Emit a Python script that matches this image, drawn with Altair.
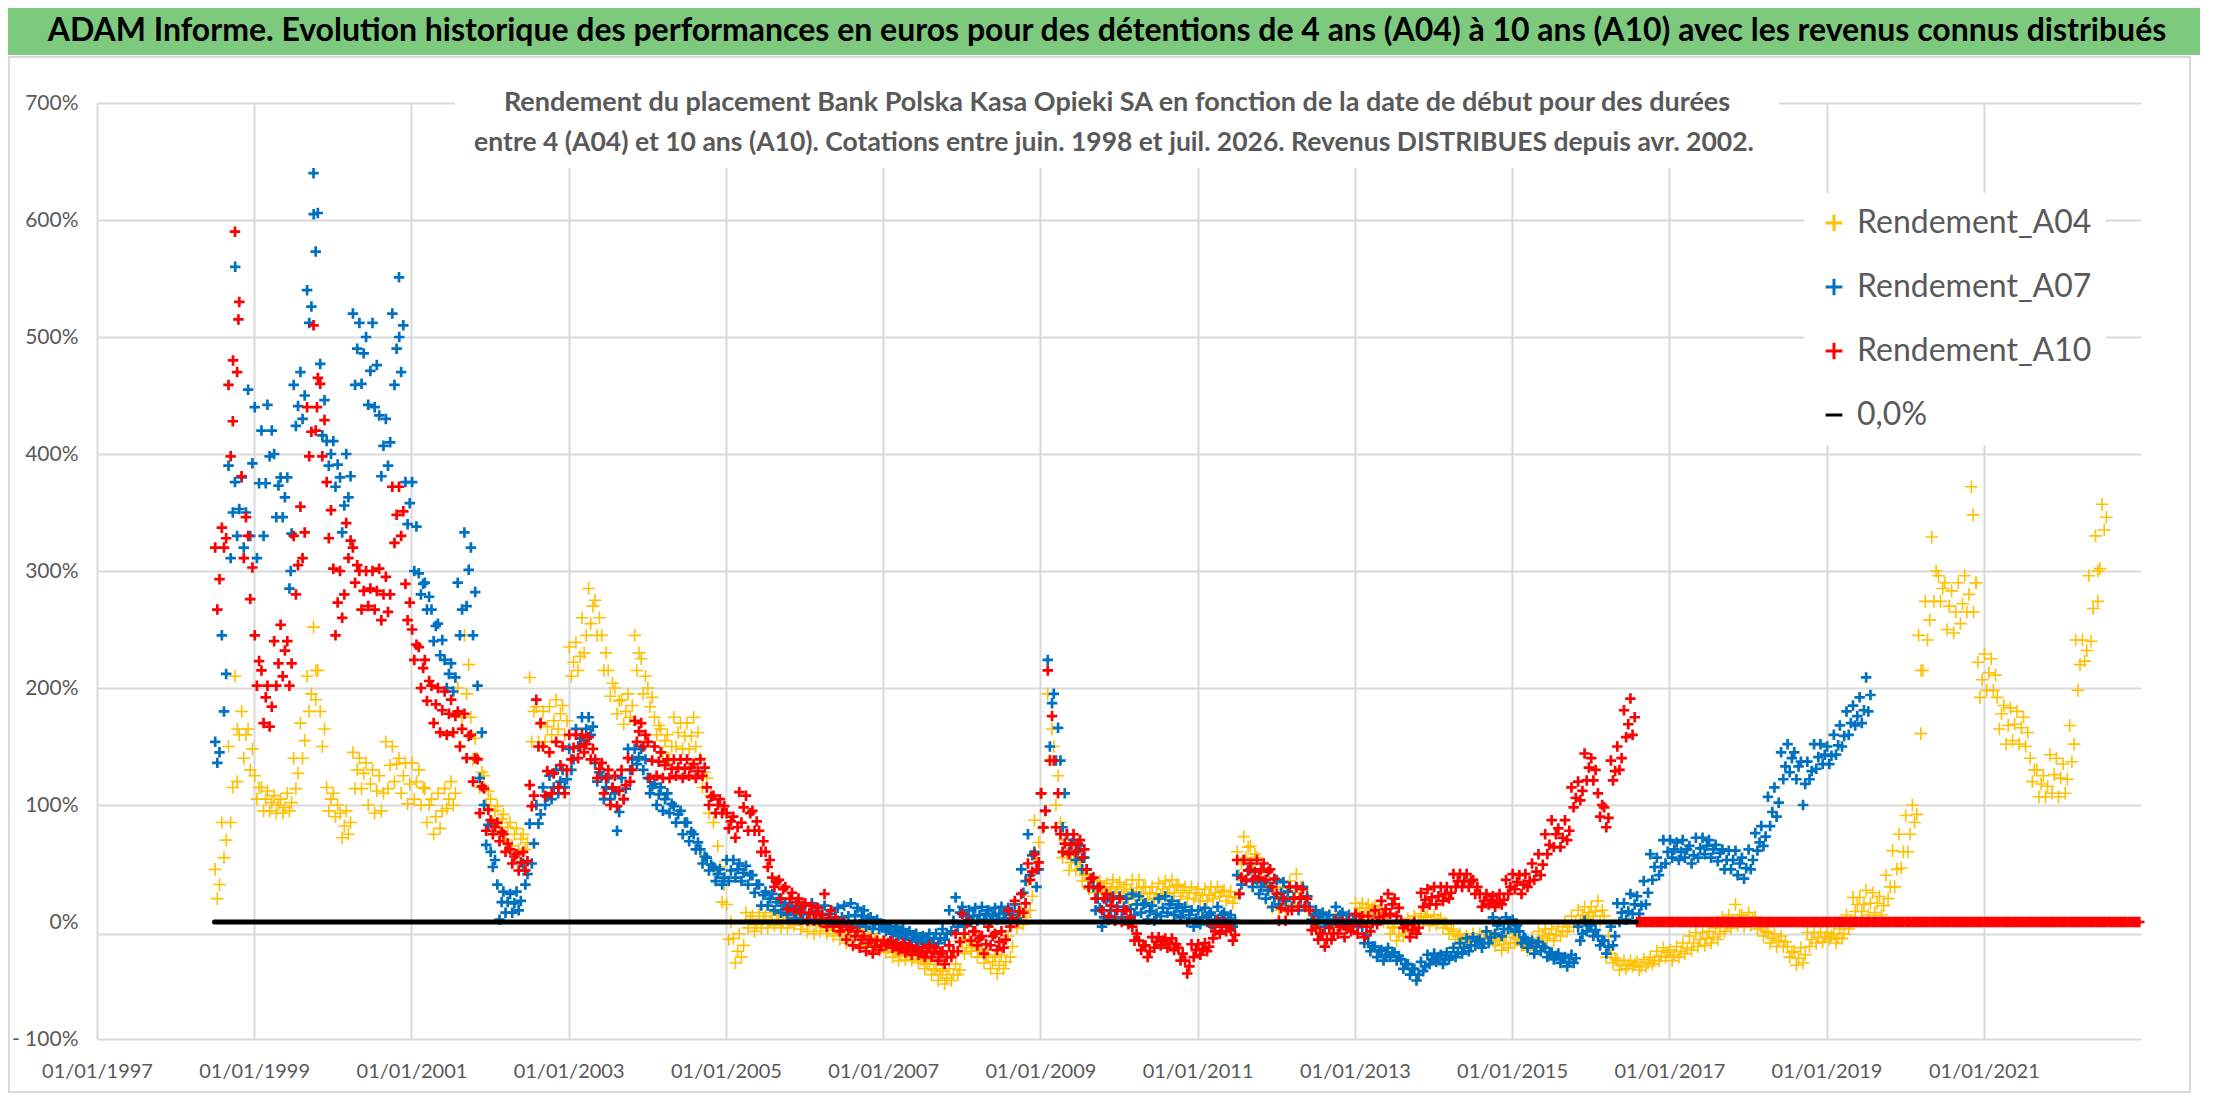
import altair as alt
import pandas as pd

# ---------------------------------------------------------------- textes
TITRE = ("ADAM Informe. Evolution historique des performances en euros pour des détentions "
         "de 4 ans (A04) à 10 ans (A10) avec les revenus connus distribués")
SOUS_TITRE_1 = ("Rendement du placement Bank Polska Kasa Opieki SA en fonction de la date de début "
                "pour des durées")
SOUS_TITRE_2 = ("entre 4 (A04) et 10 ans (A10). Cotations entre juin. 1998 et juil. 2026. "
                "Revenus DISTRIBUES depuis avr. 2002.")

SERIES = ["Rendement_A04", "Rendement_A07", "Rendement_A10", "0,0%"]
COULEURS = ["#FFC000", "#0070C0", "#FF0000", "#000000"]
PLUS = "M-1,0L1,0M0,-1L0,1"
FORMES = [PLUS, PLUS, PLUS, "stroke"]

ANNEES_AXE = [1997, 1999, 2001, 2003, 2005, 2007, 2009, 2011, 2013, 2015, 2017, 2019, 2021]
Y_TICKS = [-1, -0.105, 0, 1, 2, 3, 4, 5, 6, 7]

# ---------------------------------------------------------------- données (en %)
# trois lectures par mois (bas, milieu, haut du nuage), à partir de juillet 1998
DEBUT = "1998-07-01"

A04_BAS = [
    20, 55, 85, 120, 140, 130,
    105, 95, 95, 93, 93, 95, 114, 140, 180, 190, 150, 95,
    90, 72, 75, 114, 114, 100, 93, 95, 114, 120, 110, 101,
    105, 100, 85, 75, 80, 97, 100, 150, 195, 139, 115, 100,
    85, 78, 70, 65, 62, 62, 154, 154, 154, 160, 165, 160,
    210, 215, 230, 255, 245, 215, 193, 178, 169, 175, 215, 195,
    184, 160, 145, 139, 150, 148, 148, 150, 115, 93, 45, 17,
    -15, -35, -30, -5, -8, -5, -5, -3, -5, -5, -3, -6,
    -8, -10, -8, -10, -12, -15, -18, -20, -21, -20, -22, -24,
    -26, -30, -33, -32, -33, -35, -40, -45, -50, -53, -50, -45,
    -27, -25, -30, -35, -40, -44, -40, -30, -5, -2, 10, 50,
    80, 138, 100, 55, 44, 44, 35, 28, 25, 24, 22, 25,
    22, 20, 22, 24, 20, 19, 22, 24, 25, 22, 20, 20,
    18, 18, 20, 22, 18, 16, 40, 55, 50, 35, 20, 12,
    10, 12, 15, 20, 13, 0, -4, -4, -3, -4, -3, -2,
    7, 7, 8, 5, 0, -10, -16, -12, -8, -5, 0, -3,
    -2, -5, -10, -15, -18, -21, -20, -18, -15, -20, -24, -22,
    -18, -20, -24, -22, -16, -14, -16, -12, -8, -4, 1, 3,
    5, 1, -30, -35, -41, -40, -38, -41, -38, -36, -33, -30,
    -33, -30, -27, -24, -21, -20, -18, -15, -8, -5, -3, -4,
    -3, -6, -12, -18, -21, -21, -30, -37, -35, -21, -18, -17,
    -15, -18, -14, -6, 9, 9, 6, 8, 6, 20, 30, 46,
    60, 85, 161, 241, 274, 274, 250, 247, 255, 265, 265, 192,
    198, 198, 165, 152, 155, 152, 150, 120, 107, 107, 110, 107,
    110, 137, 198, 223, 240, 274, 335,
]
A04_MILIEU = [
    32, 70, 115, 160, 160, 148,
    115, 105, 102, 100, 98, 102, 127, 155, 195, 215, 165, 105,
    100, 82, 85, 130, 127, 118, 112, 110, 134, 135, 125, 118,
    120, 115, 100, 90, 95, 105, 110, 175, 220, 157, 128, 112,
    95, 88, 81, 75, 71, 68, 180, 169, 167, 172, 178, 172,
    222, 227, 245, 270, 260, 230, 204, 189, 180, 185, 230, 210,
    192, 168, 155, 150, 162, 159, 159, 162, 128, 108, 65, 32,
    0, -25, -20, 2, -2, 2, 0, 2, 0, 1, 2, 0,
    -1, -3, -2, -5, -7, -10, -12, -13, -15, -13, -16, -19,
    -22, -26, -29, -28, -29, -32, -36, -41, -45, -48, -45, -41,
    -22, -20, -25, -30, -34, -37, -34, -21, 0, 4, 22, 68,
    95, 165, 125, 70, 51, 51, 40, 35, 31, 30, 28, 30,
    28, 26, 29, 30, 25, 24, 28, 30, 31, 27, 25, 25,
    23, 23, 25, 26, 22, 21, 50, 64, 58, 45, 28, 21,
    19, 21, 25, 30, 22, 5, 2, 2, 2, 0, 2, 2,
    12, 12, 12, 10, 5, -5, -10, -6, -2, 0, 4, 1,
    2, -1, -6, -12, -14, -16, -15, -14, -12, -16, -19, -18,
    -14, -17, -20, -18, -12, -10, -11, -8, -4, 0, 6, 8,
    9, 10, -12, -31, -37, -37, -36, -38, -35, -33, -29, -26,
    -28, -25, -22, -18, -15, -14, -13, -10, -2, 0, 6, 1,
    2, -1, -8, -14, -16, -17, -26, -31, -28, -15, -13, -13,
    -12, -14, -10, 0, 15, 15, 16, 16, 14, 30, 45, 60,
    75, 92, 215, 258, 300, 285, 270, 265, 272, 280, 290, 207,
    213, 211, 178, 168, 169, 166, 162, 130, 118, 116, 126, 123,
    122, 152, 220, 232, 268, 302, 346,
]
A04_HAUT = [
    45, 85, 150, 210, 180, 165,
    125, 115, 112, 108, 105, 110, 140, 170, 210, 252, 180, 115,
    110, 93, 95, 145, 140, 136, 130, 125, 154, 150, 140, 136,
    136, 130, 114, 105, 110, 114, 120, 200, 245, 175, 140, 125,
    105, 99, 92, 85, 80, 75, 209, 184, 180, 184, 190, 185,
    235, 239, 260, 285, 275, 245, 215, 200, 190, 195, 245, 225,
    200, 175, 165, 160, 175, 170, 170, 175, 140, 123, 85, 47,
    15, -14, -10, 8, 5, 8, 5, 8, 6, 7, 8, 7,
    6, 5, 5, 0, -2, -4, -5, -6, -8, -6, -10, -14,
    -18, -22, -24, -24, -25, -28, -32, -36, -40, -42, -40, -36,
    -16, -15, -20, -25, -28, -30, -28, -12, 5, 10, 35, 87,
    110, 195, 150, 85, 58, 58, 45, 41, 38, 35, 33, 36,
    34, 32, 36, 36, 30, 30, 33, 35, 36, 32, 30, 30,
    28, 28, 30, 30, 27, 26, 60, 73, 65, 55, 35, 30,
    28, 30, 35, 41, 30, 10, 7, 7, 6, 5, 7, 6,
    16, 16, 15, 14, 10, 0, -4, 0, 3, 5, 7, 5,
    6, 3, -2, -8, -10, -12, -10, -10, -8, -12, -14, -13,
    -10, -14, -16, -14, -8, -6, -6, -4, 0, 5, 10, 13,
    13, 18, 5, -27, -33, -33, -33, -34, -32, -30, -25, -22,
    -24, -21, -18, -12, -9, -9, -8, -5, 4, 6, 15, 6,
    8, 4, -4, -9, -10, -12, -21, -25, -22, -9, -9, -9,
    -9, -10, -6, 6, 21, 21, 27, 25, 22, 40, 61, 75,
    91, 100, 245, 274, 329, 296, 290, 283, 290, 296, 372, 222,
    229, 225, 192, 185, 183, 180, 175, 140, 130, 125, 143, 140,
    135, 168, 241, 241, 296, 330, 357,
]
A04_EXTRA_DATES = ["1998-10-15", "1999-10-15", "2020-03-15", "2020-11-12", "2020-11-27", "2022-06-15"]
A04_EXTRA_VALS = [165, 215, 215, 348, 290, 300]

A07_BAS = [
    136, 180, 311, 330, 320, 330,
    311, 330, 398, 346, 346, 285, 424, 430, 512, 573, 416, 390,
    372, 333, 363, 459, 460, 442, 440, 381, 390, 459, 470, 340,
    300, 280, 267, 240, 228, 200, 197, 245, 270, 245, 123, 66,
    47, 2, 8, 8, 10, 32, 50, 84, 100, 105, 110, 115,
    130, 150, 155, 160, 120, 105, 105, 78, 105, 130, 135, 130,
    110, 100, 95, 93, 85, 75, 69, 62, 50, 44, 35, 32,
    35, 38, 35, 32, 25, 14, 14, 10, 8, 6, 3, 2,
    1, 2, 1, 0, -2, -4, -3, -4, -2, -4, -6, -6,
    -8, -10, -12, -14, -15, -17, -19, -19, -18, -15, -8, -4,
    -2, 0, 1, 2, 1, 2, 3, 1, 3, 25, 40, 30,
    81, 150, 138, 81, 60, 53, 45, 30, 10, -4, 2, 4,
    4, 2, 6, 8, 2, 1, 5, 8, 6, 4, 0, -4,
    -2, 0, -4, 0, -2, -4, 24, 35, 30, 24, 20, 13,
    15, 18, 13, 10, 14, 2, 0, -4, -2, 0, -3, -4,
    -4, -18, -25, -30, -33, -30, -33, -40, -45, -50, -42, -36,
    -34, -36, -32, -30, -27, -25, -20, -22, -18, -10, -12, -6,
    -8, -18, -22, -27, -25, -30, -32, -35, -38, -35, -16, -8,
    -12, -20, -27, -20, 0, 2, 7, 7, 15, 36, 40, 50,
    55, 53, 55, 50, 55, 58, 55, 52, 45, 45, 40, 37,
    45, 61, 65, 82, 90, 122, 128, 122, 100, 122, 131, 135,
    135, 143, 150, 160, 168, 170, 180,
]
A07_MILIEU = [
    145, 212, 350, 353, 350, 392,
    375, 375, 420, 373, 363, 332, 441, 450, 526, 606, 446, 400,
    391, 356, 381, 490, 486, 471, 476, 407, 410, 490, 510, 358,
    338, 289, 278, 253, 241, 212, 209, 267, 301, 282, 162, 83,
    53, 17, 17, 16, 18, 41, 67, 92, 107, 115, 120, 122,
    139, 157, 165, 167, 128, 115, 114, 94, 114, 139, 141, 139,
    116, 109, 105, 101, 92, 85, 77, 68, 56, 49, 41, 38,
    44, 45, 42, 40, 32, 23, 20, 17, 14, 11, 8, 7,
    7, 9, 6, 7, 4, 4, 5, 6, 5, 3, -1, -2,
    -5, -7, -8, -10, -11, -13, -15, -14, -14, -10, 1, 8,
    5, 5, 6, 7, 5, 7, 8, 6, 9, 35, 57, 45,
    95, 187, 166, 110, 67, 61, 55, 37, 20, 4, 10, 13,
    13, 11, 15, 15, 9, 7, 12, 15, 12, 9, 6, 3,
    4, 6, 2, 6, 3, 1, 32, 44, 37, 30, 27, 21,
    25, 26, 21, 20, 22, 7, 5, 2, 2, 6, 2, 1,
    1, -11, -21, -25, -28, -26, -29, -36, -40, -45, -38, -32,
    -30, -32, -29, -26, -22, -20, -16, -18, -13, -3, -6, -1,
    -3, -13, -18, -21, -21, -26, -29, -31, -34, -31, -10, -3,
    -7, -16, -21, -12, 8, 9, 15, 14, 25, 47, 47, 60,
    62, 60, 62, 57, 63, 65, 62, 59, 53, 53, 50, 46,
    53, 68, 73, 94, 102, 133, 140, 133, 118, 129, 141, 143,
    142, 151, 159, 170, 176, 181, 194,
]
A07_HAUT = [
    154, 245, 390, 376, 380, 455,
    440, 420, 442, 400, 380, 380, 459, 470, 540, 640, 477, 411,
    411, 380, 400, 520, 512, 500, 512, 433, 430, 520, 551, 376,
    376, 298, 290, 267, 255, 224, 221, 290, 333, 320, 202, 100,
    60, 32, 26, 24, 26, 50, 84, 100, 115, 125, 130, 130,
    148, 165, 175, 175, 136, 125, 123, 110, 123, 148, 148, 148,
    123, 118, 115, 110, 99, 95, 85, 75, 62, 55, 47, 45,
    53, 53, 50, 48, 40, 32, 26, 24, 20, 16, 14, 12,
    14, 16, 12, 14, 10, 12, 14, 16, 12, 10, 4, 2,
    -2, -4, -4, -6, -8, -10, -12, -10, -10, -6, 10, 21,
    13, 10, 12, 13, 10, 12, 13, 12, 15, 45, 75, 60,
    110, 224, 195, 138, 75, 70, 65, 45, 30, 12, 18, 22,
    22, 20, 24, 22, 16, 14, 20, 22, 18, 15, 13, 10,
    10, 12, 8, 13, 8, 6, 40, 53, 45, 36, 34, 30,
    36, 34, 30, 30, 30, 13, 10, 8, 6, 13, 8, 6,
    6, -4, -18, -21, -24, -22, -26, -32, -36, -40, -34, -28,
    -27, -28, -26, -22, -18, -14, -13, -15, -8, 4, 0, 4,
    2, -8, -14, -16, -17, -22, -26, -27, -30, -28, -4, 1,
    -2, -12, -16, -4, 16, 16, 24, 22, 35, 58, 55, 70,
    70, 68, 70, 65, 72, 72, 70, 66, 62, 61, 61, 55,
    62, 76, 82, 107, 115, 145, 152, 145, 137, 137, 152, 152,
    150, 160, 168, 180, 185, 192, 209,
]
A07_EXTRA_DATES = ["1998-10-05", "1999-10-05", "1999-06-20", "2000-11-05"]
A07_EXTRA_VALS = [560, 605, 300, 500]

A10_BAS = [
    267, 320, 398, 470, 311, 276,
    202, 170, 167, 202, 210, 202, 280, 311, 398, 420, 398, 328,
    245, 260, 311, 290, 267, 270, 267, 258, 265, 324, 330, 258,
    224, 200, 189, 170, 162, 160, 162, 150, 140, 120, 93, 78,
    75, 69, 60, 50, 44, 44, 99, 150, 108, 110, 115, 110,
    139, 140, 145, 139, 123, 110, 100, 99, 105, 120, 154, 150,
    123, 125, 123, 123, 125, 123, 125, 123, 125, 100, 93, 93,
    80, 72, 85, 78, 78, 60, 47, 30, 20, 11, 10, 8,
    1, 1, 0, -4, -4, -8, -15, -20, -22, -25, -27, -24,
    -20, -22, -24, -26, -28, -28, -30, -30, -33, -36, -30, -25,
    -10, -16, -20, -27, -20, -24, -22, -4, 0, 8, 36, 45,
    81, 138, 81, 60, 58, 60, 55, 30, 20, 10, 5, 1,
    0, -2, -16, -24, -30, -22, -20, -22, -24, -33, -44, -30,
    -28, -25, -14, -10, -8, -16, 24, 36, 36, 38, 36, 30,
    1, 1, 10, 13, 13, -7, -15, -21, -15, -10, -13, -8,
    -10, -13, -8, -2, 5, 7, 5, -5, -13, -10, 13, 15,
    15, 18, 20, 30, 30, 30, 24, 13, 15, 13, 15, 24,
    28, 24, 30, 36, 40, 58, 64, 64, 70, 98, 104, 121,
    121, 90, 81, 121, 130, 158, 160, 0, 0, 0, 0, 0,
    0, 0, 0, 0, 0, 0, 0, 0, 0, 0, 0, 0,
    0, 0, 0, 0, 0, 0, 0, 0, 0, 0, 0, 0,
    0, 0, 0, 0, 0, 0, 0, 0, 0, 0, 0, 0,
    0, 0, 0, 0, 0, 0, 0, 0, 0, 0, 0, 0,
    0, 0, 0, 0, 0, 0, 0, 0, 0, 0, 0, 0,
    0, 0, 0, 0, 0, 0, 0, 0, 0, 0, 0, 0,
]
A10_MILIEU = [
    293, 328, 428, 530, 346, 303,
    223, 192, 184, 221, 232, 221, 305, 333, 419, 465, 429, 352,
    273, 280, 326, 305, 283, 285, 283, 280, 280, 348, 351, 273,
    237, 217, 206, 186, 181, 178, 176, 165, 159, 140, 116, 96,
    81, 77, 67, 56, 51, 52, 108, 170, 129, 127, 134, 130,
    149, 150, 152, 148, 131, 123, 115, 112, 117, 130, 163, 160,
    138, 137, 134, 131, 132, 131, 132, 129, 132, 107, 100, 99,
    86, 81, 98, 93, 86, 69, 53, 34, 28, 20, 17, 14,
    8, 7, 6, 3, 3, -3, -7, -12, -15, -18, -21, -20,
    -18, -19, -21, -22, -24, -25, -26, -25, -27, -30, -25, -17,
    -1, -8, -14, -19, -12, -17, -15, 3, 9, 16, 43, 51,
    95, 176, 110, 67, 66, 67, 62, 37, 29, 20, 14, 10,
    10, 4, -10, -20, -25, -17, -16, -18, -19, -27, -38, -24,
    -23, -21, -8, -4, -4, -11, 38, 44, 43, 45, 43, 37,
    12, 10, 20, 21, 20, 1, -10, -15, -10, -4, -6, -3,
    -1, -4, -1, 4, 11, 15, 12, -2, -7, -5, 19, 21,
    22, 24, 25, 35, 35, 35, 30, 18, 19, 17, 19, 30,
    34, 32, 35, 43, 49, 66, 75, 72, 78, 106, 112, 132,
    130, 100, 89, 129, 140, 169, 175, 0, 0, 0, 0, 0,
    0, 0, 0, 0, 0, 0, 0, 0, 0, 0, 0, 0,
    0, 0, 0, 0, 0, 0, 0, 0, 0, 0, 0, 0,
    0, 0, 0, 0, 0, 0, 0, 0, 0, 0, 0, 0,
    0, 0, 0, 0, 0, 0, 0, 0, 0, 0, 0, 0,
    0, 0, 0, 0, 0, 0, 0, 0, 0, 0, 0, 0,
    0, 0, 0, 0, 0, 0, 0, 0, 0, 0, 0, 0,
]
A10_HAUT = [
    320, 337, 459, 590, 381, 330,
    245, 215, 202, 240, 254, 240, 330, 355, 440, 510, 460, 376,
    302, 300, 341, 320, 300, 300, 300, 302, 295, 372, 372, 289,
    250, 235, 224, 202, 200, 197, 190, 180, 178, 160, 139, 114,
    87, 85, 75, 62, 58, 60, 117, 190, 150, 145, 154, 150,
    160, 160, 160, 158, 139, 136, 130, 125, 130, 140, 172, 170,
    154, 150, 145, 139, 139, 139, 139, 135, 139, 115, 108, 105,
    93, 90, 111, 108, 95, 78, 60, 38, 36, 30, 25, 20,
    16, 14, 12, 24, 10, 1, 0, -5, -8, -12, -15, -16,
    -16, -16, -18, -18, -20, -22, -22, -20, -22, -25, -20, -10,
    7, 0, -8, -12, -4, -10, -8, 10, 18, 24, 50, 58,
    110, 215, 138, 75, 75, 75, 70, 45, 38, 30, 24, 20,
    20, 10, -4, -16, -20, -13, -13, -14, -14, -22, -33, -19,
    -19, -18, -2, 1, 0, -6, 53, 53, 50, 53, 50, 45,
    24, 20, 30, 30, 28, 10, -5, -10, -5, 1, 0, 1,
    7, 5, 5, 10, 18, 24, 20, 1, -2, 0, 25, 28,
    30, 30, 30, 41, 41, 41, 36, 24, 24, 22, 24, 36,
    41, 40, 41, 50, 58, 75, 87, 80, 87, 115, 120, 144,
    140, 110, 98, 138, 150, 181, 191, 0, 0, 0, 0, 0,
    0, 0, 0, 0, 0, 0, 0, 0, 0, 0, 0, 0,
    0, 0, 0, 0, 0, 0, 0, 0, 0, 0, 0, 0,
    0, 0, 0, 0, 0, 0, 0, 0, 0, 0, 0, 0,
    0, 0, 0, 0, 0, 0, 0, 0, 0, 0, 0, 0,
    0, 0, 0, 0, 0, 0, 0, 0, 0, 0, 0, 0,
    0, 0, 0, 0, 0, 0, 0, 0, 0, 0, 0, 0,
]
A10_EXTRA_DATES = ["1998-10-20", "1998-09-25", "1999-10-20"]
A10_EXTRA_VALS = [515, 480, 440]

ZERO_DATES = ["1998-07-01", "2016-07-31"]
ZERO_VALS = [0, 0]

# ---------------------------------------------------------------- tables
def table(nom, bas, milieu, haut, extra_dates, extra_vals):
    assert len(bas) == len(haut) == len(milieu), (nom, len(bas), len(milieu), len(haut))
    mois = pd.date_range(DEBUT, periods=len(bas), freq="MS")
    dates, vals = [], []
    for m, b, c, h in zip(mois, bas, milieu, haut):
        for jour, v in ((3, h), (13, b), (23, c)):
            dates.append((m + pd.Timedelta(days=jour)).strftime("%Y-%m-%d"))
            vals.append(v / 100)
    dates += extra_dates
    vals += [v / 100 for v in extra_vals]
    return pd.DataFrame({"date": dates, "rendement": vals, "serie": nom})


df04 = table(SERIES[0], A04_BAS, A04_MILIEU, A04_HAUT, A04_EXTRA_DATES, A04_EXTRA_VALS)
df07 = table(SERIES[1], A07_BAS, A07_MILIEU, A07_HAUT, A07_EXTRA_DATES, A07_EXTRA_VALS)
df10 = table(SERIES[2], A10_BAS, A10_MILIEU, A10_HAUT, A10_EXTRA_DATES, A10_EXTRA_VALS)
df0 = pd.DataFrame({"date": ZERO_DATES, "rendement": ZERO_VALS})
un = pd.DataFrame({"k": [0]})

# ---------------------------------------------------------------- styles
POLICE = "Lato"
GRIS = "#595959"
GRILLE = "#d9d9d9"

x_axis = alt.Axis(
    values=[alt.DateTime(year=a, month=1, date=1, utc=True) for a in ANNEES_AXE],
    format="%d/%m/%Y", grid=True, gridColor=GRILLE, gridWidth=2,
    domain=False, ticks=False, tickSize=0, labelPadding=22,
    labelFont=POLICE, labelFontSize=20, labelColor=GRIS,
    labelFlush=False, labelOverlap=False, title=None,
)
y_axis = alt.Axis(
    values=Y_TICKS,
    labelExpr=("datum.value < -0.5 ? '- ' + format(-datum.value, '.0%') : "
               "(datum.value < -0.05 ? '' : format(datum.value, '.0%'))"),
    grid=True, gridColor=GRILLE, gridWidth=2,
    gridOpacity={"condition": {"test": "datum.value === 0", "value": 0}, "value": 1},
    domain=False, ticks=False, tickSize=0, labelPadding=19,
    labelFont=POLICE, labelFontSize=21, labelColor=GRIS,
    labelFlush=False, labelOverlap=False, title=None,
)
X = alt.X("date:T", axis=x_axis, scale=alt.Scale(
    type="utc",
    domain=[alt.DateTime(year=1997, month=1, date=1, utc=True),
            alt.DateTime(year=2023, month=1, date=1, utc=True)]))
Y = alt.Y("rendement:Q", axis=y_axis, scale=alt.Scale(domain=[-1, 7], nice=False, zero=False))

legende = alt.Legend(
    title=None, orient="none", legendX=1707, legendY=90,
    fillColor="white", padding=14, labelFont=POLICE, labelFontSize=32,
    labelColor=GRIS, labelLimit=600, symbolSize=280, symbolStrokeWidth=3,
    rowPadding=32, labelOffset=7,
)
C = alt.Color("serie:N", scale=alt.Scale(domain=SERIES, range=COULEURS), legend=legende)
S = alt.Shape("serie:N", scale=alt.Scale(domain=SERIES, range=FORMES), legend=legende)

# ---------------------------------------------------------------- couches
banniere = alt.Chart(un).mark_rect(fill="#7dc97d").encode(
    x=alt.value(-89), x2=alt.value(2103), y=alt.value(-95), y2=alt.value(-48))
titre = alt.Chart(un).mark_text(
    text=TITRE, font=POLICE, fontSize=32, fontWeight="bold", color="#000000",
    align="center", baseline="middle").encode(x=alt.value(1010), y=alt.value(-72))
cadre = alt.Chart(un).mark_rect(fillOpacity=0, stroke=GRILLE, strokeWidth=2).encode(
    x=alt.value(-88), x2=alt.value(2093), y=alt.value(-46), y2=alt.value(989))
boite = alt.Chart(un).mark_rect(fill="white").encode(
    x=alt.value(358), x2=alt.value(1682), y=alt.value(-23), y2=alt.value(65))
st1 = alt.Chart(un).mark_text(
    text=SOUS_TITRE_1, font=POLICE, fontSize=27, fontWeight="bold", color=GRIS,
    align="center", baseline="middle").encode(x=alt.value(1020), y=alt.value(0))
st2 = alt.Chart(un).mark_text(
    text=SOUS_TITRE_2, font=POLICE, fontSize=26.5, fontWeight="bold", color=GRIS,
    align="center", baseline="middle").encode(x=alt.value(1017), y=alt.value(40))

p04 = alt.Chart(df04).mark_point(filled=False, size=160, strokeWidth=1.6, opacity=1).encode(
    x=X, y=Y, color=C, shape=S)
p07 = alt.Chart(df07).mark_point(filled=False, size=110, strokeWidth=2.7, opacity=1).encode(
    x=X, y=Y, color=C, shape=S)
p10 = alt.Chart(df10).mark_point(filled=False, size=110, strokeWidth=2.7, opacity=1).encode(
    x=X, y=Y, color=C, shape=S)
ligne0 = alt.Chart(df0).mark_line(color="#000000", strokeWidth=5, strokeCap="round").encode(
    x=alt.X("date:T"), y=alt.Y("rendement:Q"))

chart = alt.layer(
    banniere, titre, cadre, boite, st1, st2, p04, p07, p10, ligne0
).properties(
    width=2044, height=936, padding=0
).configure_view(strokeWidth=0)

chart.save("out.html", embed_options={"renderer": "svg", "actions": False})
